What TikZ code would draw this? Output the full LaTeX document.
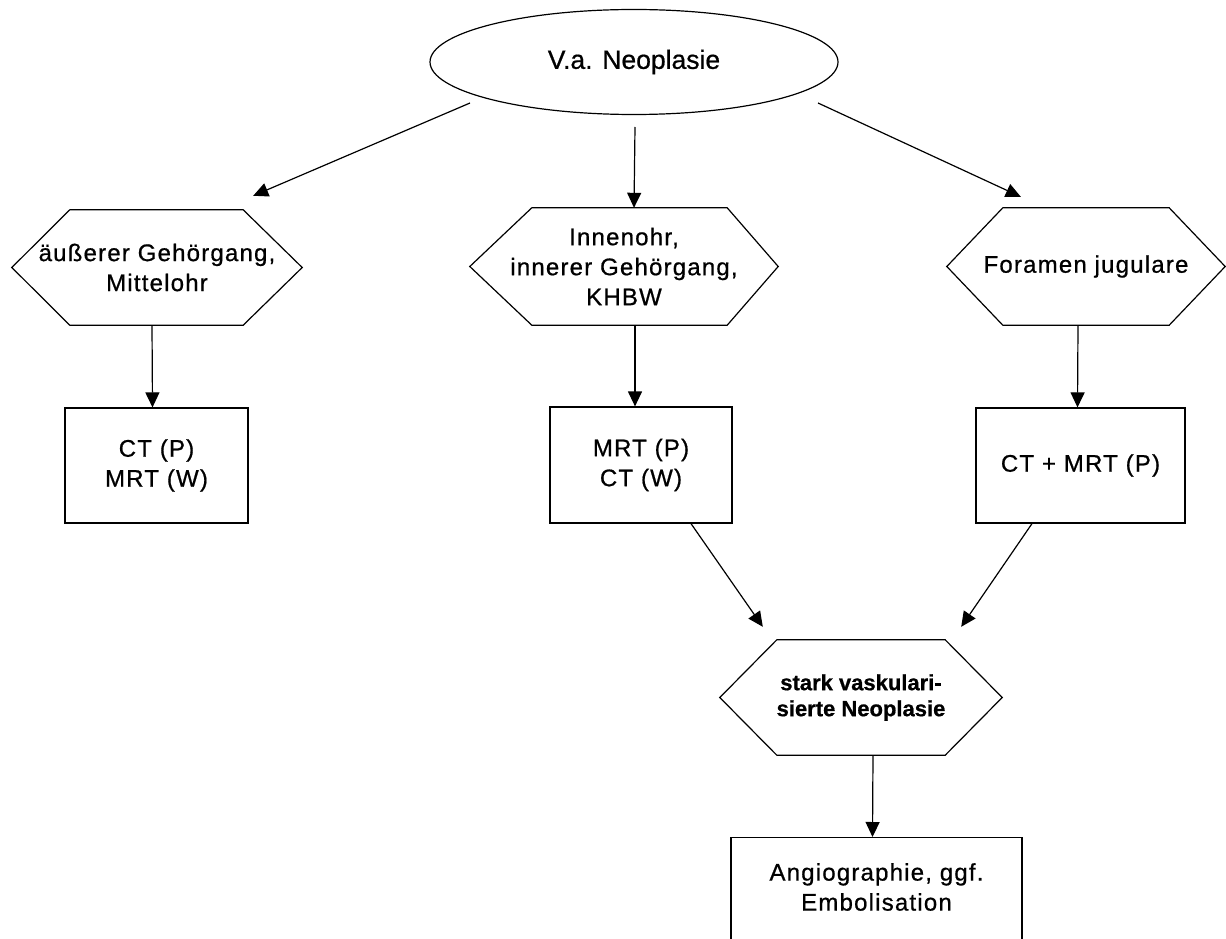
\documentclass[tikz,border=0pt]{standalone}
\usepackage{fontspec}
\setmainfont{Liberation Sans}[LetterSpace=5,FakeBold=0.7]
\newfontfamily\plainfont{Liberation Sans}[FakeBold=0.7]
\usetikzlibrary{shapes.geometric,arrows.meta,calc}
\tikzset{
  outline/.style={draw=black, line width=1.2pt},
  arr/.style={-{Triangle[length=15pt,width=14pt]}, line width=1.2pt, draw=black},
  txt/.style={align=center, inner sep=0pt, font=\fontsize{24}{30}\selectfont},
  boxnode/.style={outline, rectangle, inner sep=0pt, align=center, font=\fontsize{24}{30}\selectfont},
  hexnode/.style={rectangle, inner sep=0pt, align=center, font=\fontsize{24}{30}\selectfont},
}
\newcommand{\hexoutline}[3]{\draw[outline] (#1.west) -- ($(#1.north west)+(#2,0)$) -- ($(#1.north east)+(-#3,0)$) -- (#1.east) -- ($(#1.south east)+(-#3,0)$) -- ($(#1.south west)+(#2,0)$) -- cycle;}
\begin{document}
\begin{tikzpicture}[x=1pt,y=-1pt]
\useasboundingbox (0,0) rectangle (1226,939);
\clip (0,0) rectangle (1226,939);
\fill[white] (0,0) rectangle (1226,939);

% top ellipse
\node[outline, ellipse, minimum width=408pt, minimum height=105pt, inner sep=0pt,
      font=\plainfont\fontsize{26.5}{30}\selectfont] (e) at (634,62) {\raisebox{-3pt}{V.a. Neoplasie}};

% hexagons
\node[hexnode, minimum width=290pt, minimum height=115pt] (h1) at (157,267.5) {äußerer Gehörgang,\\Mittelohr};
\node[hexnode, minimum width=308pt, minimum height=117pt] (h2) at (624,266.5) {Innenohr,\\innerer Gehörgang,\\KHBW};
\node[hexnode, minimum width=278pt, minimum height=117pt] (h3) at (1086,266.5) {Foramen jugulare};
\node[hexnode, minimum width=282pt, minimum height=115pt,
      font=\plainfont\bfseries\fontsize{22}{26}\selectfont] (h4) at (861,697.5) {stark vaskulari-\\sierte Neoplasie};
\hexoutline{h1}{58}{59}
\hexoutline{h2}{62}{51}
\hexoutline{h3}{56}{56}
\hexoutline{h4}{57}{57}

% boxes
\node[boxnode, minimum width=183pt, minimum height=115pt] (b1) at (156.5,465.5) {CT (P)\\MRT (W)};
\node[boxnode, minimum width=182pt, minimum height=116pt] (b2) at (641,465) {MRT (P)\\CT (W)};
\node[boxnode, minimum width=209pt, minimum height=115pt] (b3) at (1080.5,465.5) {CT + MRT (P)};
\node[boxnode, anchor=north, minimum width=291pt, minimum height=130pt] (b4) at (876.5,837) {};
\node[txt] (t4) at (876.5,887) {Angiographie, ggf.\\Embolisation};

% connectors
\draw[arr] ($(e.center)+(-164,41)$) -- ($(h1.north east)+(-49,-14)$);
\draw[arr] ($(e.center)+(1,65)$) -- ($(h2.north)+(10,0)$);
\draw[arr] ($(e.center)+(184,41)$) -- ($(h3.north west)+(74,-11)$);
\draw[arr] ($(h1.south)+(-5,0)$) -- ($(b1.north)+(-4,0)$);
\draw[arr] ($(h2.south)+(11,0)$) -- ($(b2.north)+(-6,0)$);
\draw[arr] ($(h3.south)+(-8,0)$) -- ($(b3.north)+(-3,0)$);
\draw[arr] ($(b2.south)+(50,0)$) -- ($(h4.north west)+(43,-13)$);
\draw[arr] ($(b3.south)+(-48.5,0)$) -- ($(h4.north east)+(-41,-13)$);
\draw[arr] ($(h4.south)+(12,0)$) -- ($(b4.north)+(-4,0)$);
\end{tikzpicture}
\end{document}
